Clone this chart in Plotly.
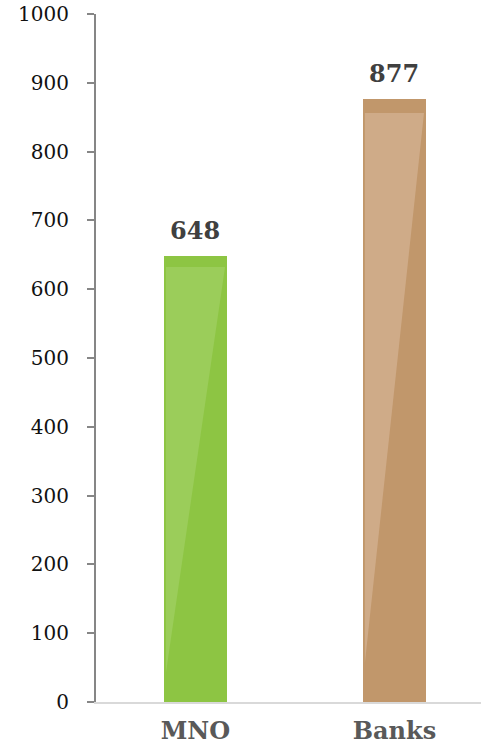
import plotly.graph_objects as go

categories = ["MNO", "Banks"]
values = [648, 877]
bar_colors = ["#8dc543", "#c1976b"]
gloss_colors = ["#9bcd5a", "#cfab88"]
y_ticks = [0, 100, 200, 300, 400, 500, 600, 700, 800, 900, 1000]

bar_w = 0.317
inset = 0.01
band = 0.024
gloss_bottom = 0.065

fig = go.Figure()
xs = list(range(len(categories)))
fig.add_trace(go.Bar(x=xs, y=values, width=bar_w, marker=dict(color=bar_colors, line=dict(width=0)),
                     hoverinfo="skip", showlegend=False))

for i, (v, gc) in enumerate(zip(values, gloss_colors)):
    left = i - bar_w / 2 + inset
    right = i + bar_w / 2 - inset
    top = v * (1 - band)
    bottom = v * gloss_bottom
    fig.add_trace(go.Scatter(x=[left, right, left, left], y=[top, top, bottom, top],
                             mode="lines", fill="toself", fillcolor=gc,
                             line=dict(width=0, color=gc), hoverinfo="skip", showlegend=False))
    fig.add_annotation(x=i, y=v, text=f"<b>{v}</b>", showarrow=False, yanchor="bottom", yshift=9,
                       font=dict(family="DejaVu Serif", size=24, color="#404040"))

fig.update_layout(
    width=481, height=747,
    margin=dict(l=96, r=0, t=14, b=45),
    plot_bgcolor="white", paper_bgcolor="white",
    bargap=0,
)
fig.update_xaxes(range=[-0.5, 1.435], tickvals=xs, ticktext=[f"<b>{c}</b>" for c in categories],
                 showline=True, linecolor="#d9d9d9", linewidth=2, ticks="", showgrid=False, zeroline=False,
                 tickfont=dict(family="DejaVu Serif", size=24, color="#595959"), ticklabelstandoff=6)
fig.update_yaxes(range=[0, 1000], tickvals=y_ticks, showline=True, linecolor="#868686", linewidth=2,
                 ticks="outside", ticklen=7, tickcolor="#868686", tickwidth=2, showgrid=False, zeroline=False,
                 tickfont=dict(family="DejaVu Serif", size=20, color="#111111"), ticklabelstandoff=14)

fig.write_html("out.html")
